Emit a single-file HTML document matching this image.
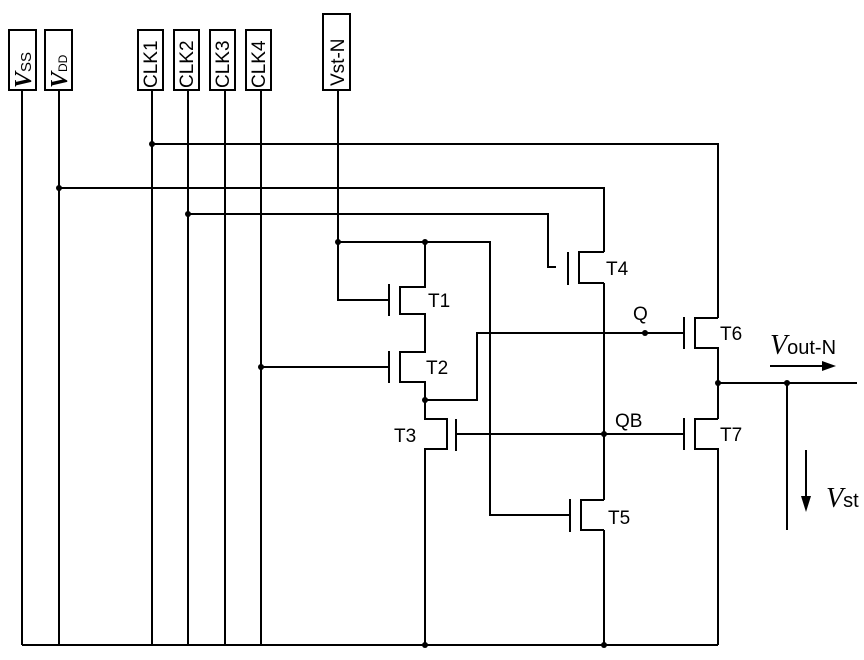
<!DOCTYPE html>
<html><head><style>body{margin:0;background:#fff}svg{display:block}text{font-family:"Liberation Sans",sans-serif;fill:#000}</style></head><body>
<svg width="864" height="660" viewBox="0 0 864 660" xmlns="http://www.w3.org/2000/svg">
<g stroke="#000" stroke-width="2" fill="none">
<rect x="9" y="30" width="27" height="60"/><rect x="45" y="30" width="27" height="60"/>
<rect x="138" y="30" width="25" height="60"/><rect x="174" y="30" width="25" height="60"/>
<rect x="210" y="30" width="25" height="60"/><rect x="246" y="30" width="25" height="60"/>
<rect x="323" y="14" width="27" height="76"/>
<path d="M22 90V645M59 90V645M152 90V645M188 90V645M225 90V645M261 90V645"/>
<path d="M22 645H718"/>
<path d="M152 144H718V318"/>
<path d="M59 188H604V252"/>
<path d="M188 214H548V267H556"/>
<path d="M568 252V285"/><path d="M604 252H579V283H604"/>
<path d="M604 283V500"/><path d="M604 530V645"/>
<path d="M338 90V300H388"/>
<path d="M338 242H490V515H570"/>
<path d="M425 242V287H400V314H425V352H400V382H425V419H447V449H425V645"/>
<path d="M389 284V316M389 351V383"/>
<path d="M261 367H389"/>
<path d="M456 419V451"/><path d="M456 434H684"/>
<path d="M425 400H477V333H684"/>
<path d="M570 499V532"/><path d="M604 500H581V530H604"/>
<path d="M684 317V349"/><path d="M718 318H695V348H718V419"/>
<path d="M684 418V450"/><path d="M718 419H695V449H718V645"/>
<path d="M718 383H857"/><path d="M787 383V530"/>
<path d="M770 366H825"/><path d="M806 450V500"/>
</g>
<g fill="#000">
<circle cx="152" cy="144" r="3"/><circle cx="59" cy="188" r="3"/><circle cx="188" cy="214" r="3"/>
<circle cx="338" cy="242" r="3"/><circle cx="425" cy="242" r="3"/><circle cx="261" cy="367" r="3"/>
<circle cx="425" cy="400" r="3"/><circle cx="645" cy="333" r="3"/><circle cx="604" cy="434" r="3"/>
<circle cx="718" cy="383" r="3"/><circle cx="787" cy="383" r="3"/><circle cx="425" cy="645" r="3"/><circle cx="604" cy="645" r="3"/>
<path d="M822 361L836 366L822 371Z"/><path d="M801 496L806 512L811 496Z"/>
</g>
<g font-size="19">
<text transform="translate(31,88) rotate(-90)"><tspan font-family="Liberation Serif" font-style="italic" font-weight="bold" font-size="24">V</tspan><tspan font-size="15">SS</tspan></text>
<text transform="translate(67,88) rotate(-90)"><tspan font-family="Liberation Serif" font-style="italic" font-weight="bold" font-size="24">V</tspan><tspan font-size="12">DD</tspan></text>
<text transform="translate(157,88) rotate(-90)">CLK1</text>
<text transform="translate(193,88) rotate(-90)">CLK2</text>
<text transform="translate(229,88) rotate(-90)">CLK3</text>
<text transform="translate(265,88) rotate(-90)">CLK4</text>
<text transform="translate(344,86) rotate(-90)">Vst-N</text>
<text x="428" y="307">T1</text><text x="426" y="374">T2</text><text x="394" y="442">T3</text>
<text x="606" y="275">T4</text><text x="608" y="524">T5</text><text x="720" y="340">T6</text><text x="720" y="441">T7</text>
<text x="633" y="320">Q</text><text x="615" y="427">QB</text>
<text x="770" y="354" font-size="20"><tspan font-family="Liberation Serif" font-style="italic" font-size="28">V</tspan>out-N</text>
<text x="826" y="507" font-size="20"><tspan font-family="Liberation Serif" font-style="italic" font-size="28">V</tspan>st</text>
</g>
</svg>
</body></html>
